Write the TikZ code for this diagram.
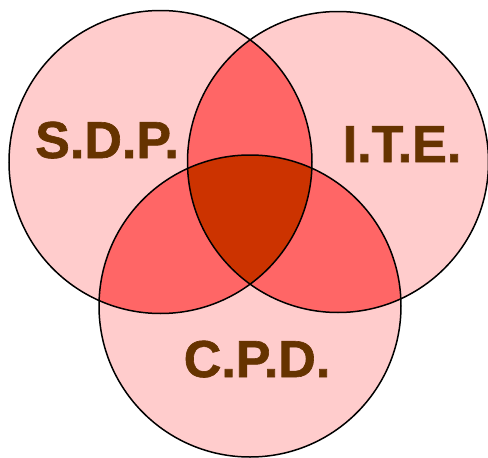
\documentclass[tikz,border=0pt]{standalone}
\usepackage{fontspec}
\setmainfont{Liberation Sans}
\newfontfamily\heavyfont[BoldFeatures={FakeBold=1.2}]{Liberation Sans}
\definecolor{pinkone}{HTML}{FFCCCC}
\definecolor{pinktwo}{HTML}{FF6666}
\definecolor{pinkthree}{HTML}{CC3300}
\definecolor{labelc}{HTML}{663300}
\begin{document}
\begin{tikzpicture}[x=1pt,y=-1pt,
  lab/.style={font=\heavyfont\fontsize{52}{52}\selectfont\bfseries, text=labelc, inner sep=0pt},
  ring/.style={draw=black, line width=1.5pt}]
\useasboundingbox (0,0) rectangle (488,458);
\def\ca{(160.5,162) circle (151.5)}
\def\cb{(338,162) circle (150.5)}
\def\cc{(250,306) circle (151)}
\fill[pinkone] \ca; \fill[pinkone] \cb; \fill[pinkone] \cc;
\begin{scope}\clip \ca; \fill[pinktwo] \cb; \fill[pinktwo] \cc; \end{scope}
\begin{scope}\clip \cb; \fill[pinktwo] \cc; \end{scope}
\begin{scope}\clip \ca; \clip \cb; \fill[pinkthree] \cc; \end{scope}
\draw[ring] \ca; \draw[ring] \cb; \draw[ring] \cc;
\node[lab, anchor=base] (sdp) at (107,158) {S.D.P.};
\node[lab, anchor=base] (ite) at (402,162) {I.T.E.};
\node[lab, anchor=base] (cpd) at (257,377) {C.P.D.};
\end{tikzpicture}
\end{document}
